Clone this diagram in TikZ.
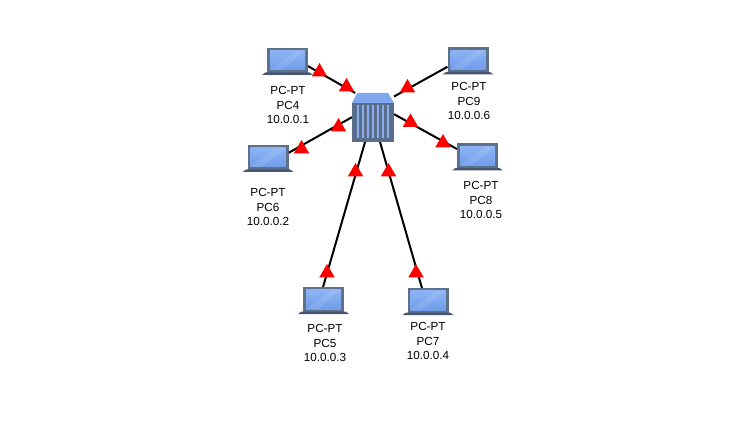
\documentclass[tikz,border=0pt]{standalone}
\usepackage{fontspec}
\setmainfont{Liberation Sans}
\usetikzlibrary{shapes.geometric}
\definecolor{frameC}{HTML}{5F708A}
\definecolor{baseC}{HTML}{465670}
\definecolor{screenA}{HTML}{8DB3F3}
\definecolor{screenB}{HTML}{6F9DEB}
\definecolor{swBody}{HTML}{5A6D8C}
\definecolor{swTop}{HTML}{7FA8EE}
\definecolor{swBar}{HTML}{8AAEE8}
\tikzset{
  lapbox/.style={minimum width=41pt,minimum height=26pt,inner sep=0pt,outer sep=0pt},
  swbox/.style={minimum width=42pt,minimum height=49pt,inner sep=0pt,outer sep=0pt},
  link/.style={line width=2pt,black},
  flag/.style={regular polygon,regular polygon sides=3,minimum size=18pt,inner sep=0pt,fill=red},
  lab/.style={align=center,font=\fontsize{11.7}{14.6}\selectfont,inner sep=0pt,text=black}
}
\newcommand{\lapicon}[1]{%
  \begin{scope}[shift={(#1.center)}]
    \fill[frameC] (-20.5,-13) rectangle (20.5,12);
    \shade[left color=screenA,right color=screenB,shading angle=0] (-17.5,-10) rectangle (17.5,9);
    \begin{scope}
      \clip (-17.5,-10) rectangle (17.5,9);
      \fill[white,opacity=0.10] (-17.5,9) -- (8,-10) -- (17.5,-10) -- (-6,9) -- cycle;
    \end{scope}
    \fill[baseC] (-22,11.5) -- (22,11.5) -- (25.5,14) -- (-25.5,14) -- cycle;
  \end{scope}}
\begin{document}
\begin{tikzpicture}[x=1pt,y=-1pt]
\useasboundingbox (0,0) rectangle (750,422);
\node[swbox] (sw) at (373,117.5) {};
\node[lapbox] (pc4) at (287.5,61) {};
\node[lapbox] (pc9) at (468,60.5) {};
\node[lapbox] (pc6) at (268,158) {};
\node[lapbox] (pc8) at (477.5,156.5) {};
\node[lapbox] (pc5) at (323.5,300) {};
\node[lapbox] (pc7) at (428,301) {};
\draw[link] (pc4.-14) -- (sw.126);
\draw[link] (pc9.197.6) -- (sw.45.7);
\draw[link] (pc6.14) -- (sw.179);
\draw[link] (pc8.160) -- (sw.9.5);
\draw[link] (pc5.92) -- (sw.-108);
\draw[link] (pc7.115) -- (sw.-74);
\lapicon{pc4}\lapicon{pc9}\lapicon{pc6}\lapicon{pc8}\lapicon{pc5}\lapicon{pc7}
\begin{scope}[shift={(sw.center)}]
  \fill[swTop] (-16,-24.5) -- (15,-24.5) -- (21,-14.5) -- (-21,-14.5) -- cycle;
  \fill[swBody] (-21,-14.5) rectangle (21,24.5);
  \foreach \dx in {-15.3,-10.3,-5.3,-0.3,4.7,9.7,14.7}
    \fill[swBar] (\dx-0.9,-12.5) rectangle (\dx+0.9,20.5);
\end{scope}
\node[flag] (f1) at (319.5,72) {};
\node[flag] (f2) at (346.5,87) {};
\node[flag] (f3) at (407.5,88) {};
\node[flag] (f4) at (410.5,122.5) {};
\node[flag] (f5) at (338.5,127) {};
\node[flag] (f6) at (301.5,149) {};
\node[flag] (f7) at (355.5,172) {};
\node[flag] (f8) at (388.5,172) {};
\node[flag] (f9) at (443,143) {};
\node[flag] (f10) at (327,273) {};
\node[flag] (f11) at (416,273) {};
\node[lab] (l4) at (288,105) {PC-PT\\PC4\\10.0.0.1};
\node[lab] (l9) at (469,101) {PC-PT\\PC9\\10.0.0.6};
\node[lab] (l6) at (268,207) {PC-PT\\PC6\\10.0.0.2};
\node[lab] (l8) at (481,200) {PC-PT\\PC8\\10.0.0.5};
\node[lab] (l5) at (325,343) {PC-PT\\PC5\\10.0.0.3};
\node[lab] (l7) at (428,341) {PC-PT\\PC7\\10.0.0.4};
\end{tikzpicture}
\end{document}
